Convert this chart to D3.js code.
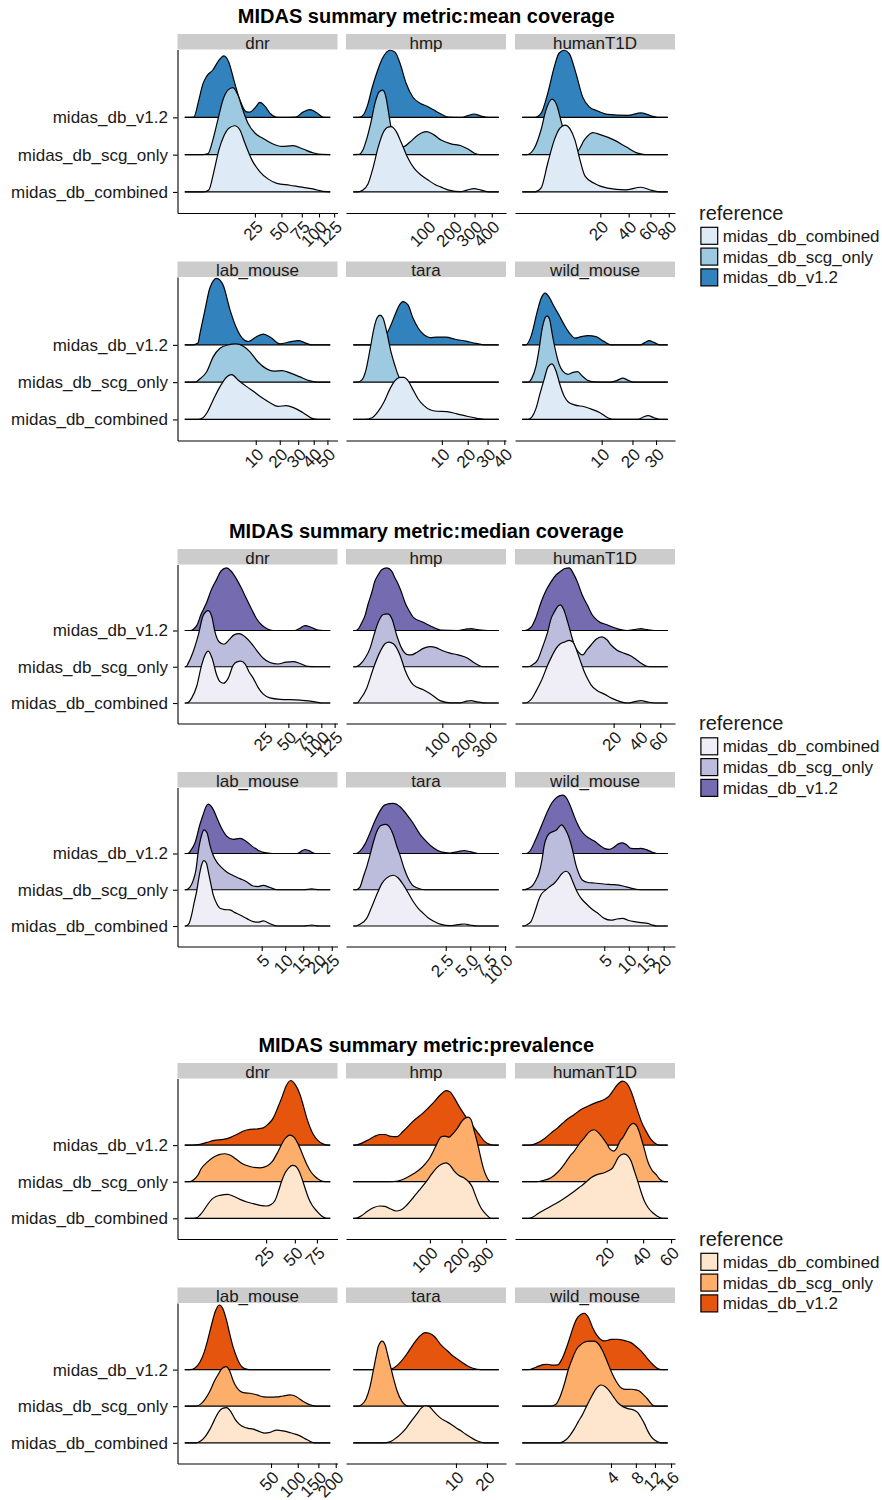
<!DOCTYPE html>
<html>
<head>
<meta charset="utf-8">
<script src="https://cdn.jsdelivr.net/npm/d3@7"></script>
<style>
  body { margin: 0; background: #fff; }
  svg { display: block; font-family: "Liberation Sans", Arial, Helvetica, sans-serif; }
</style>
</head>
<body>
<svg id="chart" width="882" height="1500"></svg>
<script>
// ---- categories ----
var metrics = ["mean coverage", "median coverage", "prevalence"];
var panels = ["dnr", "hmp", "humanT1D", "lab_mouse", "tara", "wild_mouse"];
var references = ["midas_db_combined", "midas_db_scg_only", "midas_db_v1.2"];

// ---- tick labels (x axis, sqrt scale) ----
var meanTicks = [["25","50","75","100","125"], ["100","200","300","400"], ["20","40","60","80"],
                 ["10","20","30","40","50"], ["10","20","30","40"], ["10","20","30"]];
var medianTicks = [["25","50","75","100","125"], ["100","200","300"], ["20","40","60"],
                   ["5","10","15","20","25"], ["2.5","5.0","7.5","10.0"], ["5","10","15","20"]];
var prevTicks = [["25","50","75"], ["100","200","300"], ["20","40","60"],
                 ["50","100","150","200"], ["10","20"], ["4","8","12","16"]];

// range over which each panel's densities were estimated
var meanRange = [[-0.22,118.3], [-2.64,444.9], [-0.394,78.8], [-0.504,52.2], [-1.746,36.5], [-0.049,35.7]];
var medianRange = [[-4.5,116.4], [-13.5,348.3], [-3.79,68.4], [-0.64,24.4], [-0.785,8.97], [-0.724,21.4]];
var prevRange = [[-0.735,92.5], [0,360.3], [0.03,57.4], [-5.52,183.4], [-1.39,24.7], [-0.915,15.13]];

// ---- ridge densities: [value, scaled height], order = combined, scg_only, v1.2 ----
var meanCov_dnr = [
  [[-0.22,0],[1.03,0],[1.98,0.05],[3.23,0.54],[4.79,1.12],[6.65,1.5],[8.8,1.71],[11.8,1.775],[14.7,1.66],[17.8,1.31],[22.7,0.86],[29.1,0.54],[36.2,0.35],[45.1,0.23],[59.8,0.18],[72.5,0.135],[90.8,0.08],[106.3,0.015],[118.3,0]],
  [[-0.22,0],[0.88,0],[1.83,0.03],[2.95,0.39],[4.45,0.93],[6.25,1.46],[8.36,1.73],[10.8,1.8],[13.5,1.6],[16.5,1.2],[19.8,0.85],[25,0.58],[31.6,0.44],[40,0.3],[50.5,0.22],[63.5,0.24],[76.6,0.15],[90.8,0.05],[104.7,0.005],[118.3,0]],
  [[-0.22,0],[0.055,0.01],[0.39,0.46],[0.88,0.89],[1.56,1.106],[2.95,1.27],[4.79,1.53],[6.65,1.65],[8.8,1.48],[11.3,1.0],[14.7,0.46],[18.5,0.155],[21.2,0.14],[25,0.25],[29.1,0.4],[33.4,0.3],[38.1,0.115],[44.1,0.01],[50.5,0],[67.3,0.01],[76.6,0.14],[86.4,0.21],[96.9,0.115],[106.3,0.01],[118.3,0]]
];
var meanCov_hmp = [
  [[-2.64,0],[-0.79,0],[-0.012,0.05],[0.45,0.21],[2.11,0.64],[4.99,1.18],[9.1,1.58],[14.4,1.74],[18.2,1.75],[25.5,1.63],[34,1.34],[45.8,0.96],[61.8,0.64],[80.1,0.455],[101,0.32],[124,0.2],[146,0.13],[181.8,0.04],[226.5,0.008],[260.6,0.05],[297,0.09],[336,0.05],[383,0],[444.9,0]],
  [[-2.64,0],[-0.54,0.005],[-0.012,0.13],[0.27,0.45],[1.3,0.875],[3.12,1.38],[5.71,1.68],[8.8,1.73],[12.1,1.545],[15.6,1.06],[19.6,0.58],[25.5,0.31],[37.7,0.21],[52.3,0.34],[72,0.53],[96.9,0.62],[120.6,0.53],[146,0.39],[186,0.29],[231,0.24],[265.6,0.15],[297,0.045],[330,0],[444.9,0]],
  [[-2.64,0],[-0.33,0.01],[0.002,0.09],[0.45,0.36],[1.68,0.78],[4.32,1.21],[9.1,1.61],[16.9,1.8],[23.9,1.75],[32.2,1.45],[43.7,0.92],[59.3,0.54],[77.4,0.38],[97.8,0.3],[120.6,0.195],[145.9,0.09],[173.5,0.01],[236,0],[265.6,0.05],[297,0.09],[336,0.035],[377,0],[444.9,0]]
];
var meanCov_humanT1D = [
  [[-0.394,0],[0.04,0],[0.354,0.1],[1.07,0.77],[2.14,1.39],[3.37,1.71],[4.68,1.79],[6.2,1.69],[7.93,1.39],[9.88,0.86],[12.0,0.43],[16.6,0.23],[24.5,0.1],[37.0,0.054],[50.8,0.126],[61.6,0.04],[70.1,0],[78.8,0]],
  [[-0.394,0],[-0.1,0],[0.025,0.17],[0.354,0.66],[0.85,1.2],[1.72,1.49],[2.48,1.38],[4.05,0.75],[5.97,0.305],[8.7,0.086],[11.7,0.39],[15.8,0.59],[20.4,0.53],[29.0,0.39],[37.8,0.21],[47.8,0.04],[54.6,0],[78.8,0]],
  [[-0.394,0],[0.04,0],[0.354,0.107],[1.07,0.64],[2.14,1.355],[3.14,1.72],[4.48,1.8],[5.97,1.71],[8.3,1.18],[11.0,0.55],[14.07,0.28],[18.5,0.17],[24.5,0.08],[39.2,0.055],[50.8,0.12],[63.7,0.02],[70.1,0],[78.8,0]]
];
var meanCov_lab_mouse = [
  [[-0.504,0],[0,0],[0.08,0.045],[0.25,0.18],[0.716,0.53],[1.47,0.88],[2.49,1.14],[3.42,1.2],[4.81,1.06],[7.12,0.88],[9.41,0.74],[12.3,0.58],[15.5,0.45],[19.2,0.35],[23.2,0.37],[27.6,0.31],[33.0,0.18],[38.9,0.027],[43.0,0],[52.2,0]],
  [[-0.504,0],[-0.023,0],[0.0144,0.09],[0.236,0.28],[0.716,0.685],[1.47,0.91],[2.72,1.0],[4.35,1.025],[6.09,0.97],[8.12,0.81],[10.8,0.54],[14.1,0.356],[17.3,0.295],[21.1,0.31],[25.3,0.25],[31.1,0.14],[37.5,0.035],[43.0,0],[52.2,0]],
  [[-0.504,0],[-0.069,0],[0.0001,0.05],[0.0144,0.31],[0.154,0.94],[0.44,1.53],[1.06,1.785],[1.89,1.61],[3.09,0.94],[4.35,0.48],[5.82,0.19],[7.6,0.09],[10.1,0.21],[12.8,0.29],[16.0,0.19],[20.1,0.027],[25.3,0.08],[30.1,0.115],[34.2,0.054],[38.2,0],[52.2,0]]
];
var meanCov_tara = [
  [[-1.746,0],[-0.53,0],[-0.14,0.045],[-0.005,0.21],[0.054,0.47],[0.288,0.82],[0.624,1.04],[1.09,1.13],[1.55,1.13],[2.1,1.04],[2.89,0.8],[3.82,0.555],[5.1,0.37],[6.56,0.26],[8.5,0.22],[11.7,0.21],[15.4,0.15],[19.7,0.085],[24.4,0.03],[28.6,0],[36.5,0]],
  [[-1.746,0],[-1.17,0],[-0.776,0.06],[-0.46,0.33],[-0.227,0.865],[-0.074,1.45],[-0.0148,1.72],[0.0009,1.8],[0.033,1.72],[0.148,1.32],[0.345,0.81],[0.624,0.44],[0.985,0.14],[1.55,0.01],[2.4,0],[36.5,0]],
  [[-1.746,0],[-0.227,0],[-0.03,0.03],[0.0066,0.13],[0.19,0.36],[0.624,0.8],[0.985,1.05],[1.46,1.16],[2.1,1.07],[2.89,0.72],[3.82,0.46],[5.1,0.27],[6.56,0.195],[8.5,0.21],[11.4,0.205],[14.7,0.15],[19.2,0.1],[23.9,0.04],[28.6,0],[36.5,0]]
];
var meanCov_wild_mouse = [
  [[-0.049,0],[0.0005,0],[0.037,0.07],[0.13,0.29],[0.284,0.69],[0.495,1.06],[0.764,1.41],[1.09,1.49],[1.48,1.3],[1.92,0.93],[2.42,0.635],[2.98,0.475],[3.98,0.39],[5.87,0.34],[7.56,0.27],[9.56,0.18],[11.7,0.045],[13.3,0],[22.2,0],[24.2,0.06],[26.4,0.1],[29.1,0.045],[31.9,0],[35.7,0]],
  [[-0.049,0],[0.0005,0],[0.037,0.115],[0.13,0.42],[0.24,0.865],[0.38,1.4],[0.557,1.72],[0.69,1.78],[0.88,1.69],[1.155,1.22],[1.48,0.785],[1.84,0.465],[2.29,0.29],[2.98,0.21],[3.77,0.26],[4.58,0.28],[5.4,0.17],[6.44,0.06],[8.06,0.008],[12.4,0],[14.6,0.048],[16.5,0.107],[18.4,0.048],[20.6,0],[35.7,0]],
  [[-0.049,0],[-0.004,0],[0.022,0.22],[0.189,0.94],[0.33,1.235],[0.576,1.385],[0.84,1.285],[1.3,1.02],[1.8,0.8],[2.46,0.535],[3.28,0.3],[4.1,0.18],[5.2,0.22],[6.65,0.25],[8.53,0.22],[10.6,0.094],[12.7,0],[23.0,0],[25.1,0.067],[26.9,0.115],[29.1,0.067],[31.9,0],[35.7,0]]
];

var medCov_dnr = [
  [[-4.5,0],[-3.71,0],[-2.28,0.136],[-1.14,0.455],[-0.386,1.05],[-0.108,1.32],[-0.0013,1.43],[0.086,1.245],[0.505,0.774],[1.0,0.59],[1.68,0.545],[2.94,0.673],[4.77,1.046],[6.31,1.136],[8.08,1.155],[10.4,1.08],[12.8,0.864],[15.7,0.68],[19.2,0.43],[23.5,0.245],[29.6,0.14],[40.1,0.1],[65.8,0.082],[84.1,0.046],[103,0],[116.4,0]],
  [[-4.5,0],[-4.07,0],[-3.28,0.1],[-1.87,0.42],[-0.85,0.87],[-0.23,1.42],[-0.0013,1.55],[0.086,1.37],[0.313,0.96],[0.837,0.69],[1.85,0.62],[3.25,0.74],[5.05,0.88],[7.39,0.915],[10.4,0.83],[14.1,0.66],[18.4,0.44],[23.5,0.234],[29.6,0.117],[37.9,0.076],[47.1,0.13],[56.4,0.144],[65.8,0.09],[77.8,0.008],[89.1,0],[116.4,0]],
  [[-4.5,0],[-2.76,0],[-1.14,0.136],[-0.468,0.44],[-0.032,0.77],[0.042,1.1],[0.505,1.41],[1.19,1.64],[2.56,1.725],[3.92,1.64],[6.18,1.41],[8.59,1.15],[11.4,0.86],[14.6,0.58],[18.2,0.316],[22.4,0.144],[26.8,0.05],[32.6,0],[58.7,0],[65.8,0.063],[73.1,0.136],[82.6,0.09],[94.2,0.008],[103,0],[116.4,0]]
];
var medCov_hmp = [
  [[-13.5,0],[-9.6,0],[-6.98,0.093],[-2.6,0.41],[-0.36,0.954],[0.185,1.41],[1.44,1.635],[3.28,1.68],[6.12,1.635],[12.3,1.32],[18.2,0.91],[30.8,0.5],[50.1,0.365],[70.1,0.23],[93.1,0.065],[125,0.005],[161.8,0.005],[186,0.046],[207.6,0.065],[235,0.033],[290,0],[348.3,0]],
  [[-13.5,0],[-10.6,0],[-6.98,0.063],[-3.51,0.234],[-1.22,0.507],[-0.24,0.88],[0.015,1.21],[0.878,1.44],[2.6,1.46],[5.17,1.32],[8.97,0.87],[14.2,0.507],[20.5,0.343],[27.0,0.327],[37.4,0.4],[50.1,0.507],[65.8,0.553],[81.6,0.526],[96,0.463],[125,0.376],[154,0.327],[193.3,0.234],[216.6,0.13],[240,0.05],[264,0],[348.3,0]],
  [[-13.5,0],[-10.6,0],[-8.4,0.044],[-5.45,0.226],[-3.51,0.41],[-2.0,0.717],[-0.714,1.04],[-0.114,1.37],[0.0286,1.54],[0.54,1.68],[2.13,1.725],[4.96,1.635],[7.47,1.45],[10.5,1.27],[14.5,1.016],[18.2,0.77],[23.9,0.553],[30.8,0.362],[50.1,0.226],[74.3,0.09],[96,0.008],[154,0],[182,0.035],[207.6,0.05],[240,0.022],[290,0],[348.3,0]]
];
var medCov_humanT1D = [
  [[-3.79,0],[-3.09,0],[-1.78,0.093],[-0.97,0.32],[-0.4,0.59],[-0.026,1.046],[0.0197,1.3],[0.178,1.5],[0.494,1.627],[1.01,1.68],[1.84,1.73],[2.61,1.68],[3.34,1.5],[4.44,1.19],[5.81,0.864],[7.13,0.646],[8.3,0.5],[10.9,0.346],[14.6,0.245],[19.0,0.128],[24.9,0.033],[30.0,0],[36.5,0.046],[40.9,0.065],[46.5,0.033],[54.4,0],[68.4,0]],
  [[-3.79,0],[-2.39,0],[-1.43,0.063],[-0.747,0.19],[-0.316,0.5],[-0.026,0.96],[0.005,1.32],[0.091,1.51],[0.24,1.64],[0.524,1.705],[0.9,1.59],[1.55,1.23],[2.18,0.907],[2.92,0.6],[3.87,0.417],[5.28,0.327],[6.76,0.47],[8.3,0.6],[10.45,0.757],[13.35,0.826],[16.0,0.744],[18.4,0.6],[22.2,0.458],[27.3,0.37],[31.6,0.308],[35.1,0.234],[40.0,0.117],[45.5,0.022],[49.4,0],[68.4,0]],
  [[-3.79,0],[-3.09,0],[-1.78,0.09],[-0.97,0.36],[-0.4,0.77],[-0.079,1.1],[0.005,1.34],[0.178,1.53],[0.597,1.64],[1.11,1.71],[1.84,1.725],[2.61,1.59],[3.79,1.32],[5.06,0.99],[7.02,0.68],[8.71,0.44],[11.2,0.27],[16.4,0.15],[22.6,0.044],[29.3,0],[36.5,0.035],[40.9,0.05],[46.5,0.022],[54.4,0],[68.4,0]]
];
var medCov_lab_mouse = [
  [[-0.64,0],[-0.569,0],[-0.404,0.064],[-0.28,0.306],[-0.192,0.62],[-0.11,0.953],[-0.058,1.34],[-0.02,1.675],[-0.0019,1.805],[0.003,1.73],[0.016,1.51],[0.054,1.147],[0.105,0.861],[0.21,0.62],[0.346,0.49],[0.617,0.453],[0.966,0.444],[1.39,0.37],[1.9,0.306],[2.74,0.203],[3.62,0.12],[4.36,0.105],[5.28,0.139],[6.56,0.064],[8.06,0],[15.2,0],[17.7,0.028],[20.2,0],[24.4,0]],
  [[-0.64,0],[-0.569,0],[-0.355,0.075],[-0.217,0.26],[-0.129,0.547],[-0.072,1.047],[-0.018,1.51],[-0.0019,1.65],[0.0056,1.575],[0.037,1.233],[0.097,0.964],[0.21,0.77],[0.394,0.63],[0.727,0.49],[1.21,0.394],[1.9,0.306],[2.74,0.214],[3.62,0.103],[4.36,0.089],[5.28,0.122],[6.56,0.061],[8.06,0],[15.2,0],[17.7,0.028],[20.2,0],[24.4,0]],
  [[-0.64,0],[-0.456,0],[-0.31,0.09],[-0.159,0.29],[-0.04,0.806],[-0.005,1.08],[0.0013,1.29],[0.016,1.36],[0.054,1.31],[0.123,1.175],[0.22,0.98],[0.394,0.73],[0.727,0.48],[1.24,0.39],[1.9,0.417],[2.61,0.34],[3.43,0.203],[4.37,0.092],[5.57,0.022],[6.98,0],[13.2,0],[14.7,0.078],[15.56,0.11],[16.8,0.078],[18.9,0],[24.4,0]]
];
var medCov_tara = [
  [[-0.785,0],[-0.66,0],[-0.5,0.05],[-0.28,0.21],[-0.16,0.51],[-0.068,0.86],[-0.0144,1.175],[0,1.32],[0.033,1.4],[0.094,1.33],[0.2,1.14],[0.33,0.925],[0.51,0.675],[0.706,0.494],[0.965,0.35],[1.23,0.23],[1.56,0.139],[2.12,0.044],[2.87,0.008],[3.64,0.036],[4.31,0.056],[4.97,0.028],[5.96,0],[8.97,0]],
  [[-0.785,0],[-0.66,0],[-0.5,0.075],[-0.383,0.353],[-0.27,0.66],[-0.194,0.955],[-0.12,1.325],[-0.068,1.6],[-0.0216,1.77],[-0.0002,1.805],[0.0087,1.71],[0.033,1.51],[0.0785,1.186],[0.13,0.955],[0.218,0.6],[0.33,0.325],[0.463,0.144],[0.66,0.053],[1.06,0],[8.97,0]],
  [[-0.785,0],[-0.66,0],[-0.5,0.064],[-0.33,0.258],[-0.194,0.564],[-0.094,0.9],[-0.03,1.175],[-0.0016,1.34],[0.033,1.38],[0.13,1.29],[0.29,1.08],[0.5,0.84],[0.8,0.53],[1.17,0.314],[1.56,0.156],[2.12,0.044],[2.87,0.014],[3.64,0.05],[4.31,0.083],[4.97,0.05],[5.96,0],[8.97,0]]
];
var medCov_wild_mouse = [
  [[-0.724,0],[-0.62,0],[-0.454,0.036],[-0.274,0.12],[-0.184,0.286],[-0.112,0.49],[-0.058,0.703],[-0.0216,0.86],[0.0017,1.0],[0.037,1.09],[0.125,1.18],[0.243,1.3],[0.367,1.417],[0.63,1.51],[0.858,1.44],[1.096,1.23],[1.46,0.953],[1.85,0.767],[2.4,0.62],[3.01,0.49],[3.85,0.37],[5.0,0.21],[6.2,0.16],[7.36,0.194],[8.58,0.21],[9.79,0.16],[11.34,0.12],[13.1,0.092],[15.0,0.072],[16.3,0.028],[17.8,0],[21.4,0]],
  [[-0.724,0],[-0.6,0],[-0.405,0.033],[-0.21,0.122],[-0.112,0.27],[-0.044,0.49],[-0.012,0.825],[-0.0005,1.23],[0.0062,1.46],[0.0275,1.55],[0.175,1.64],[0.4,1.79],[0.6,1.66],[0.844,1.42],[1.12,1.047],[1.37,0.678],[1.65,0.436],[2.02,0.26],[2.63,0.2],[3.46,0.186],[4.95,0.158],[6.83,0.139],[8.65,0.103],[10.5,0.047],[13.1,0],[21.4,0]],
  [[-0.724,0],[-0.506,0],[-0.274,0.111],[-0.139,0.342],[-0.044,0.62],[-0.0028,0.9],[0.011,1.175],[0.071,1.4],[0.208,1.55],[0.449,1.61],[0.692,1.51],[0.966,1.267],[1.24,1.01],[1.525,0.806],[1.85,0.633],[2.2,0.528],[2.76,0.425],[3.46,0.342],[4.46,0.203],[5.12,0.133],[5.87,0.111],[6.77,0.175],[7.57,0.258],[8.58,0.294],[9.56,0.23],[10.5,0.139],[11.76,0.133],[13.1,0.139],[15.0,0.092],[16.3,0.036],[17.8,0],[21.4,0]]
];

var prev_dnr = [
  [[-0.735,0],[-0.168,0],[0,0.016],[0.057,0.09],[0.226,0.2],[0.55,0.35],[1.17,0.518],[1.93,0.595],[2.82,0.628],[4.99,0.655],[7.22,0.595],[9.73,0.518],[13.1,0.445],[16.6,0.4],[20.8,0.355],[25.4,0.336],[28.7,0.376],[31.8,0.486],[34.7,0.745],[37.5,1.018],[40.5,1.236],[44.2,1.386],[47.8,1.446],[51.2,1.413],[54.3,1.29],[57.2,1.106],[60.9,0.827],[64.7,0.562],[69.0,0.363],[74.7,0.2],[80.2,0.076],[87.7,0],[92.5,0]],
  [[-0.735,0],[-0.233,0],[-0.038,0.06],[0.0088,0.183],[0.096,0.347],[0.52,0.52],[1.38,0.66],[2.58,0.74],[4.16,0.764],[6.1,0.715],[8.3,0.605],[11.1,0.483],[14.7,0.415],[20.8,0.38],[25.6,0.43],[29.4,0.54],[34.6,0.84],[39.6,1.14],[45.2,1.274],[49.1,1.22],[53.6,1.02],[57.6,0.78],[62.8,0.475],[67.8,0.265],[72.6,0.142],[78.9,0.038],[85.4,0],[92.5,0]],
  [[-0.735,0],[-0.115,0],[0.057,0.02],[0.55,0.074],[1.55,0.128],[3.67,0.155],[5.76,0.205],[8.3,0.29],[11.1,0.38],[14.7,0.43],[18.8,0.44],[23.0,0.47],[26.4,0.57],[30.5,0.745],[33.9,1.01],[37.5,1.29],[41.4,1.61],[45.9,1.765],[50.2,1.66],[55.4,1.38],[59.2,1.06],[62.8,0.745],[66.6,0.49],[70.6,0.29],[76.4,0.123],[84.1,0.02],[89.5,0],[92.5,0]]
];
var prev_hmp = [
  [[0,0],[0.21,0.008],[1.23,0.076],[3.59,0.2],[7.18,0.295],[12.0,0.336],[16.95,0.327],[24.0,0.254],[30.9,0.2],[38.6,0.226],[49.0,0.363],[61.1,0.562],[75.5,0.786],[91.6,1.018],[105.3,1.222],[118.3,1.38],[130.9,1.473],[146.2,1.517],[159,1.454],[173.7,1.29],[190.2,1.168],[209.7,1.1],[228,0.99],[242.7,0.835],[252.2,0.663],[263.6,0.472],[277.9,0.28],[300,0.11],[323,0],[360.3,0]],
  [[0,0],[22.8,0],[33.8,0.02],[48.3,0.11],[62.6,0.224],[75.5,0.34],[89.8,0.51],[100,0.655],[109.4,0.84],[118.3,1.02],[130.9,1.22],[143,1.247],[156.8,1.22],[170.9,1.33],[185.5,1.473],[201.1,1.656],[216.3,1.75],[225.1,1.765],[235.9,1.7],[249.3,1.383],[260.5,1.11],[270.3,0.838],[282.2,0.51],[292.4,0.29],[304.5,0.115],[323,0],[360.3,0]],
  [[0,0],[0.21,0.005],[1.23,0.055],[3.59,0.136],[7.18,0.23],[12.0,0.29],[16.95,0.29],[24.0,0.24],[31.9,0.23],[42.4,0.38],[61.1,0.655],[83.2,0.88],[108.8,1.154],[130.9,1.39],[146.2,1.49],[159,1.46],[173.7,1.29],[190.2,1.064],[209.7,0.84],[228,0.655],[249.3,0.47],[269,0.3],[292.4,0.11],[313.7,0.027],[337.4,0],[360.3,0]]
];
var prev_humanT1D = [
  [[0.03,0],[0.215,0],[0.515,0.035],[0.916,0.125],[1.9,0.254],[3.25,0.382],[4.59,0.486],[6.18,0.608],[7.87,0.73],[10.0,0.88],[11.7,0.99],[13.47,1.108],[15.8,1.195],[18.9,1.244],[21.05,1.304],[22.8,1.38],[24.2,1.52],[25.7,1.673],[28.5,1.763],[30.9,1.7],[32.6,1.563],[34.6,1.29],[36.6,1.018],[38.7,0.718],[40.8,0.472],[43.2,0.295],[46.4,0.153],[49.4,0.063],[53.6,0],[57.4,0]],
  [[0.03,0],[0.76,0],[1.51,0.033],[2.67,0.11],[3.96,0.265],[5.34,0.475],[6.77,0.7],[7.96,0.838],[9.37,1.03],[11.1,1.2],[12.74,1.356],[14.7,1.42],[16.4,1.34],[18.2,1.2],[20.1,1.03],[21.5,0.89],[23.3,0.838],[24.95,0.933],[26.5,1.11],[27.9,1.2],[29.7,1.356],[31.7,1.52],[33.9,1.593],[35.9,1.533],[37.4,1.383],[38.7,1.2],[40.6,0.92],[43.0,0.56],[45.6,0.333],[48.7,0.2],[51.6,0.06],[54.8,0],[57.4,0]],
  [[0.03,0],[0.32,0],[0.85,0.055],[1.77,0.19],[2.67,0.327],[3.9,0.472],[5.75,0.68],[7.96,0.838],[10.0,0.97],[12.3,1.064],[15.4,1.16],[18.9,1.247],[21.05,1.337],[22.8,1.473],[24.95,1.637],[27.9,1.746],[30.3,1.678],[32.6,1.473],[34.6,1.2],[36.6,0.928],[39.0,0.628],[41.9,0.382],[44.6,0.19],[47.5,0.063],[51.6,0],[57.4,0]]
];
var prev_lab_mouse = [
  [[-5.52,0],[-1.27,0],[-0.336,0.055],[-0.02,0.164],[0.163,0.374],[0.71,0.6],[1.72,0.827],[3.13,0.94],[4.97,0.963],[7.29,0.846],[9.84,0.647],[12.77,0.518],[16.35,0.437],[20.8,0.396],[26.4,0.374],[33.2,0.314],[41.2,0.265],[48.5,0.286],[59.2,0.347],[70.2,0.327],[83.7,0.28],[96.1,0.232],[104.9,0.19],[116.4,0.115],[128.5,0.04],[138.5,0],[183.4,0]],
  [[-5.52,0],[-1.27,0],[-0.336,0.063],[-0.02,0.186],[0.163,0.417],[0.8,0.69],[1.72,0.873],[2.94,1.03],[4.64,1.08],[6.43,0.977],[8.71,0.69],[11.26,0.5],[13.56,0.417],[17.9,0.363],[22.8,0.355],[30.7,0.308],[38.8,0.254],[48.5,0.246],[59.2,0.254],[70.2,0.28],[83.7,0.308],[96.1,0.267],[104.9,0.19],[116.4,0.104],[128.5,0.04],[145.6,0],[183.4,0]],
  [[-5.52,0],[-3.17,0],[-1.525,0.046],[-0.474,0.21],[-0.063,0.456],[0.0345,0.838],[0.348,1.24],[1.01,1.6],[2.02,1.765],[3.33,1.656],[4.97,1.33],[6.71,0.947],[8.71,0.6],[11.26,0.32],[13.56,0.147],[16.97,0.033],[21.8,0],[183.4,0]]
];
var prev_tara = [
  [[-1.39,0],[0.0058,0],[0.138,0.027],[0.43,0.145],[0.77,0.273],[1.16,0.417],[1.64,0.6],[2.25,0.783],[2.83,0.94],[3.43,1.01],[4.08,0.996],[4.85,0.873],[5.57,0.764],[6.39,0.668],[7.5,0.587],[8.7,0.51],[10.0,0.41],[11.37,0.327],[12.8,0.232],[14.4,0.145],[16.4,0.055],[19.0,0],[24.7,0]],
  [[-1.39,0],[-0.96,0],[-0.66,0.05],[-0.41,0.2],[-0.224,0.527],[-0.112,0.963],[-0.048,1.345],[-0.013,1.645],[0.0021,1.78],[0.0258,1.686],[0.0826,1.372],[0.197,0.963],[0.316,0.663],[0.446,0.43],[0.75,0.145],[1.01,0.04],[1.38,0],[24.7,0]],
  [[-1.39,0],[-0.0026,0],[0.06,0.01],[0.26,0.038],[0.632,0.19],[1.16,0.42],[1.84,0.69],[2.69,0.92],[3.43,1.01],[4.25,0.988],[5.17,0.892],[6.39,0.674],[7.9,0.51],[9.08,0.387],[10.45,0.284],[11.96,0.183],[13.37,0.1],[15.05,0.038],[17.8,0],[24.7,0]]
];
var prev_wild_mouse = [
  [[-0.915,0],[0.09,0],[0.25,0.082],[0.4,0.205],[0.603,0.382],[0.84,0.587],[1.117,0.783],[1.44,1.023],[1.78,1.236],[2.25,1.473],[2.78,1.58],[3.24,1.54],[3.78,1.419],[4.34,1.255],[4.94,1.1],[5.68,0.996],[6.54,0.936],[7.71,0.892],[8.41,0.818],[9.0,0.69],[9.71,0.518],[10.39,0.327],[11.1,0.177],[12.0,0.068],[13.44,0],[15.13,0]],
  [[-0.915,0],[-0.0011,0],[0.0278,0.055],[0.09,0.254],[0.196,0.6],[0.34,1.018],[0.523,1.326],[0.751,1.577],[1.0,1.69],[1.44,1.77],[2.08,1.78],[2.51,1.7],[2.97,1.51],[3.48,1.236],[4.0,0.963],[4.69,0.69],[5.44,0.507],[6.25,0.458],[7.11,0.464],[8.03,0.445],[8.66,0.417],[9.51,0.308],[10.39,0.19],[11.1,0.076],[11.86,0],[15.13,0]],
  [[-0.915,0],[-0.588,0],[-0.36,0.033],[-0.188,0.087],[-0.071,0.136],[-0.0121,0.147],[0.0044,0.12],[0.05,0.128],[0.134,0.29],[0.31,0.693],[0.444,0.974],[0.603,1.24],[0.81,1.438],[1.23,1.54],[1.56,1.424],[1.93,1.146],[2.35,0.933],[3.16,0.783],[4.0,0.824],[4.94,0.83],[5.92,0.797],[7.11,0.737],[8.03,0.633],[9.0,0.51],[10.03,0.347],[11.1,0.19],[12.25,0.06],[13.44,0],[15.13,0]]
];

// ---- styles ----
var palettes = [
  ["#deebf7", "#9ecae1", "#3182bd"],   // Blues
  ["#efedf5", "#bcbddc", "#756bb1"],   // Purples
  ["#fee6ce", "#fdae6b", "#e6550d"]    // Oranges
];

var sections = [
  { metric: metrics[0], ticks: meanTicks, range: meanRange,
    dens: [meanCov_dnr, meanCov_hmp, meanCov_humanT1D, meanCov_lab_mouse, meanCov_tara, meanCov_wild_mouse] },
  { metric: metrics[1], ticks: medianTicks, range: medianRange,
    dens: [medCov_dnr, medCov_hmp, medCov_humanT1D, medCov_lab_mouse, medCov_tara, medCov_wild_mouse] },
  { metric: metrics[2], ticks: prevTicks, range: prevRange,
    dens: [prev_dnr, prev_hmp, prev_humanT1D, prev_lab_mouse, prev_tara, prev_wild_mouse] }
];

// ---- layout ----
var colX = [177.5, 346, 515], panelW = 160;
var secTop = [0, 515, 1029];
var panelH = [163.5, 159, 160.5];
var firstStrip = 34, stripH = 15.5, rowGap = 48.5;
var yDomain = [0.435, 4.82];
var fontSize = 17;

function sgnSqrt(v) { return v < 0 ? -Math.sqrt(-v) : Math.sqrt(v); }
function sgnSq(u) { return u < 0 ? -u * u : u * u; }

var svg = d3.select("#chart");

sections.forEach(function(sec, si) {
  var g = svg.append("g").attr("transform", "translate(0," + secTop[si] + ")");
  var ph = panelH[si];
  var pal = palettes[si];

  g.append("text")
    .attr("x", 426.25).attr("y", 23.3)
    .attr("text-anchor", "middle")
    .attr("font-weight", "bold").attr("font-size", 20)
    .text("MIDAS summary metric:" + sec.metric);

  panels.forEach(function(name, pi) {
    var r = Math.floor(pi / 3), c = pi % 3;
    var x0 = colX[c];
    var sy = firstStrip + r * (stripH + ph + rowGap);
    var py = sy + stripH, pb = py + ph;

    // strip
    g.append("rect").attr("x", x0).attr("y", sy).attr("width", panelW).attr("height", stripH)
      .attr("fill", "#cccccc");
    g.append("text").attr("x", x0 + panelW / 2).attr("y", sy + stripH - 0.8)
      .attr("text-anchor", "middle").attr("font-size", fontSize).attr("fill", "#1a1a1a")
      .text(name);

    // sqrt x scale, expanded 5% in transformed space like ggplot
    var rng = sec.range[pi];
    var a = sgnSqrt(rng[0]), b = sgnSqrt(rng[1]), pad = (b - a) * 0.05;
    var x = d3.scaleSqrt().domain([sgnSq(a - pad), sgnSq(b + pad)]).range([x0, x0 + panelW]);
    var y = d3.scaleLinear().domain(yDomain).range([pb, py]);

    var pg = g.append("g");
    // draw top ridge first so lower ridges overlap it
    [2, 1, 0].forEach(function(ri) {
      var pts = sec.dens[pi][ri];
      var level = ri + 1;
      var area = d3.area()
        .x(function(d) { return x(d[0]); })
        .y0(y(level))
        .y1(function(d) { return y(level + d[1]); })
        .curve(d3.curveMonotoneX);
      var line = d3.line()
        .x(function(d) { return x(d[0]); })
        .y(function(d) { return y(level + d[1]); })
        .curve(d3.curveMonotoneX);
      pg.append("path").attr("d", area(pts)).attr("fill", pal[ri]).attr("stroke", "none");
      // baseline of the ridge
      pg.append("line")
        .attr("x1", x(rng[0])).attr("x2", x(rng[1]))
        .attr("y1", y(level)).attr("y2", y(level))
        .attr("stroke", "#000").attr("stroke-width", 1.2);
      pg.append("path").attr("d", line(pts)).attr("fill", "none")
        .attr("stroke", "#000").attr("stroke-width", 1.2).attr("stroke-linejoin", "round");
    });

    // x axis
    var labels = sec.ticks[pi];
    var xa = d3.axisBottom(x)
      .tickValues(labels.map(Number))
      .tickFormat(function(d, i) { return labels[i]; })
      .tickSize(4.5).tickSizeOuter(0);
    var ax = g.append("g").attr("transform", "translate(0," + pb + ")").call(xa);
    ax.attr("font-family", null).attr("font-size", fontSize);
    ax.select(".domain").attr("stroke-width", 1.1);
    ax.selectAll(".tick line").attr("stroke-width", 1.1);
    ax.selectAll(".tick text")
      .attr("x", 0).attr("y", 0).attr("dy", "0.71em")
      .attr("transform", "translate(0,6.5) rotate(-45)")
      .attr("text-anchor", "end").attr("fill", "#1a1a1a");

    // y axis on the left column only
    if (c === 0) {
      var ya = d3.axisLeft(y)
        .tickValues([1, 2, 3])
        .tickFormat(function(d) { return references[d - 1]; })
        .tickSize(4.5).tickSizeOuter(0).tickPadding(5);
      var ay = g.append("g").attr("transform", "translate(" + x0 + ",0)").call(ya);
      ay.attr("font-family", null).attr("font-size", fontSize);
      ay.select(".domain").attr("stroke-width", 1.1);
      ay.selectAll(".tick line").attr("stroke-width", 1.1);
      ay.selectAll(".tick text").attr("fill", "#1a1a1a");
    }
  });

  // legend, centred on the plot body
  var lc = firstStrip + stripH + ph + rowGap / 2 + 8.75;
  var lg = g.append("g");
  lg.append("text").attr("x", 699).attr("y", lc - 26.5)
    .attr("font-size", 20).attr("fill", "#1a1a1a").text("reference");
  references.forEach(function(ref, i) {
    var ky = lc - 19.3 + i * 20.8;
    lg.append("rect").attr("x", 700.9).attr("y", ky + 0.6).attr("width", 16.8).attr("height", 17)
      .attr("fill", pal[i]).attr("stroke", "#000").attr("stroke-width", 1.2);
    lg.append("text").attr("x", 722.7).attr("y", ky + 9.1).attr("dy", "0.35em")
      .attr("font-size", fontSize).attr("fill", "#1a1a1a").text(ref);
  });
});
</script>
</body>
</html>
